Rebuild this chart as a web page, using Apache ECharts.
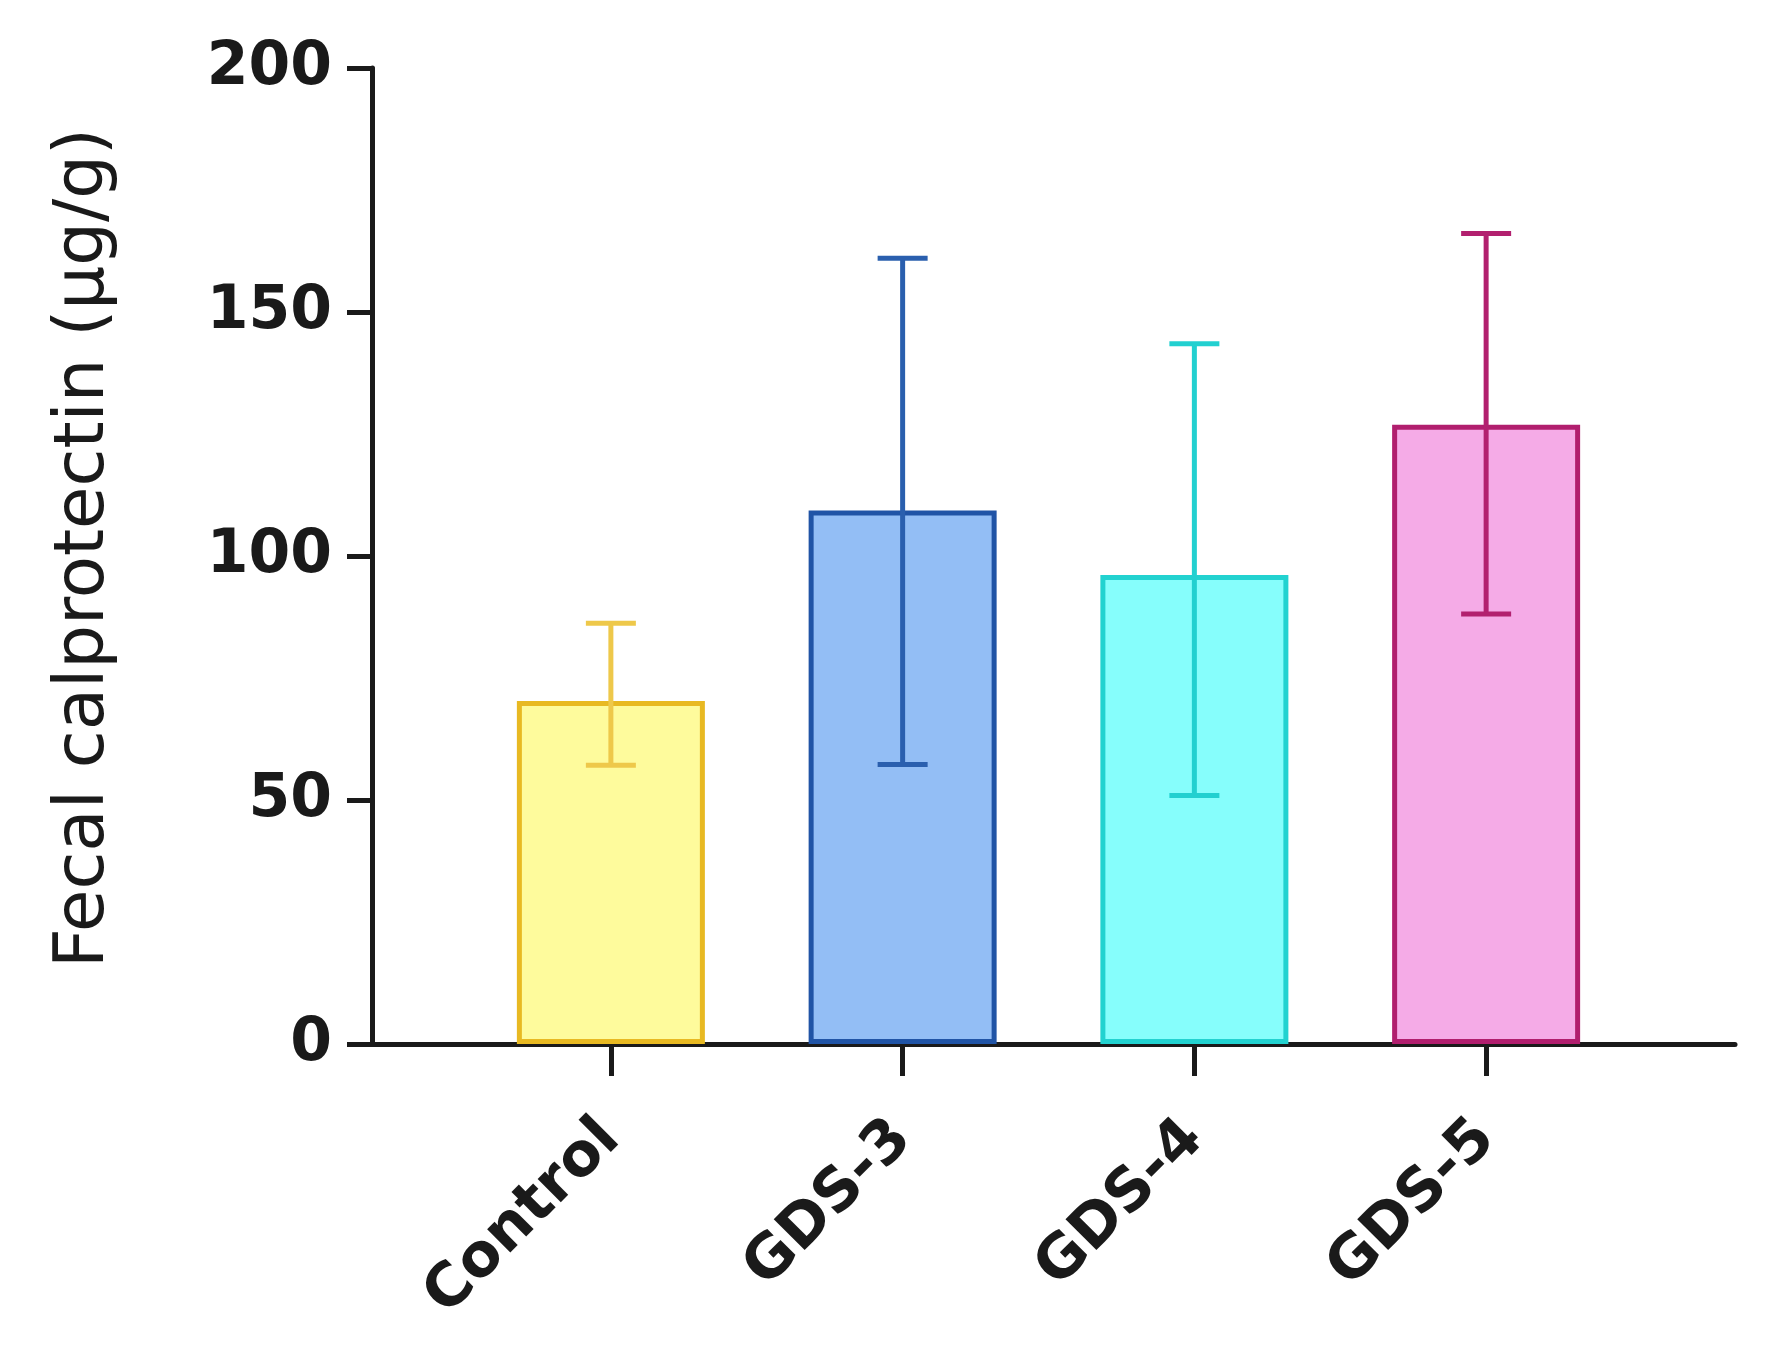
<!DOCTYPE html>
<html>
<head>
<meta charset="utf-8">
<script src="https://cdn.jsdelivr.net/npm/echarts@6/dist/echarts.min.js"></script>
<style>
  html, body { margin: 0; padding: 0; background: #fff; }
  #chart { width: 1767px; height: 1367px; }
</style>
</head>
<body>
<div id="chart"></div>
<script>
// 数据
const groups = ['Control', 'GDS-3', 'GDS-4', 'GDS-5']
const means = [70.3, 109.3, 96.1, 126.9]
const upper = [86.2, 161, 143.5, 166.1]
const lower = [57.1, 57.3, 50.9, 88.1]
const yMin = 0
const yMax = 200
const yStep = 50

// 样式
const fills = ['#fefb9c', '#93bef5', '#86fefc', '#f5abe7']
const borders = ['#e8b922', '#2054a6', '#22d2d0', '#b11e6e']
const errColors = ['#eec84a', '#2a5fae', '#22d0d0', '#b2206f']
const ink = '#1a1a1a'
const font = 'DejaVu Sans'

const chart = echarts.init(document.getElementById('chart'))

chart.setOption({
  animation: false,
  backgroundColor: '#fff',
  grid: [
    { left: 372, right: 32, top: 68, bottom: 323 },   // 坐标轴框
    { left: 465, right: 135, top: 68, bottom: 323 },  // 柱子区域
  ],
  xAxis: [
    {
      gridIndex: 0, type: 'value', min: 0, max: 1,
      axisLine: { show: true, lineStyle: { color: ink, width: 5 } },
      axisTick: { show: false }, axisLabel: { show: false }, splitLine: { show: false }
    },
    {
      gridIndex: 1, type: 'category', data: groups,
      axisLine: { show: false },
      axisTick: { show: true, alignWithLabel: true, length: 32, lineStyle: { color: ink, width: 5 } },
      axisLabel: {
        rotate: 45, margin: 86, color: ink,
        fontSize: 60, fontWeight: 'bold', fontFamily: font
      },
      splitLine: { show: false }
    }
  ],
  yAxis: [
    {
      gridIndex: 0, type: 'value', min: yMin, max: yMax, interval: yStep,
      axisLine: { show: true, lineStyle: { color: ink, width: 5 } },
      axisTick: { show: true, length: 25, lineStyle: { color: ink, width: 5 } },
      axisLabel: { margin: 40, color: ink, fontSize: 60, fontWeight: 'bold', fontFamily: font },
      splitLine: { show: false },
      name: 'Fecal calprotectin (μg/g)',
      nameLocation: 'middle',
      nameGap: 252,
      nameTextStyle: { color: ink, fontSize: 69, fontFamily: font, padding: [0, 0, 0, 16] }
    },
    { gridIndex: 1, type: 'value', min: yMin, max: yMax, show: false }
  ],
  series: [
    {
      type: 'bar',
      xAxisIndex: 1, yAxisIndex: 1,
      barWidth: 188,
      data: means.map((v, i) => ({
        value: v,
        itemStyle: { color: fills[i], borderColor: borders[i], borderWidth: 5 }
      }))
    },
    {
      type: 'custom',
      xAxisIndex: 1, yAxisIndex: 1,
      z: 10,
      encode: { x: 0, y: [1, 2] },
      data: groups.map((g, i) => [i, lower[i], upper[i]]),
      renderItem: (params, api) => {
        const i = api.value(0)
        const lo = api.coord([i, api.value(1)])
        const hi = api.coord([i, api.value(2)])
        const half = 25
        const style = { stroke: errColors[i], lineWidth: 5 }
        return {
          type: 'group',
          children: [
            { type: 'line', shape: { x1: hi[0], y1: hi[1], x2: lo[0], y2: lo[1] }, style },
            { type: 'line', shape: { x1: hi[0] - half, y1: hi[1], x2: hi[0] + half, y2: hi[1] }, style },
            { type: 'line', shape: { x1: lo[0] - half, y1: lo[1], x2: lo[0] + half, y2: lo[1] }, style }
          ]
        }
      }
    }
  ]
})
</script>
</body>
</html>
